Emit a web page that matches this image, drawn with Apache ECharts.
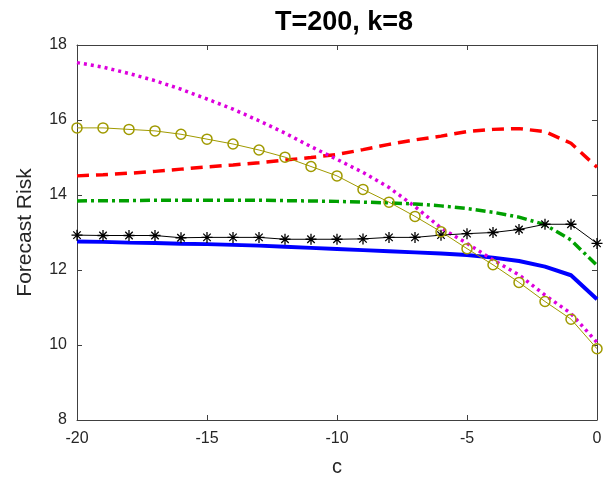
<!DOCTYPE html>
<html>
<head>
<meta charset="utf-8">
<script src="https://cdn.jsdelivr.net/npm/echarts@6/dist/echarts.min.js"></script>
<style>
  html, body { margin: 0; padding: 0; background: #fff; }
  #chart { width: 608px; height: 485px; }
</style>
</head>
<body>
<div id="chart"></div>
<script>
// c values shared by every curve
const cValues = [-20, -19, -18, -17, -16, -15, -14, -13, -12, -11, -10, -9, -8, -7, -6, -5, -4, -3, -2, -1, 0];

// forecast risk per method
const riskBlue    = [12.76, 12.75, 12.73, 12.72, 12.70, 12.69, 12.67, 12.65, 12.62, 12.59, 12.56, 12.53, 12.50, 12.47, 12.44, 12.40, 12.33, 12.24, 12.09, 11.86, 11.22];
const riskRed     = [14.51, 14.54, 14.58, 14.63, 14.69, 14.75, 14.80, 14.86, 14.93, 15.00, 15.08, 15.21, 15.35, 15.47, 15.57, 15.69, 15.75, 15.77, 15.69, 15.38, 14.74];
const riskGreen   = [13.84, 13.85, 13.85, 13.86, 13.86, 13.86, 13.86, 13.86, 13.85, 13.84, 13.83, 13.81, 13.79, 13.76, 13.71, 13.64, 13.54, 13.41, 13.21, 12.80, 12.12];
const riskMagenta = [17.53, 17.41, 17.24, 17.05, 16.82, 16.56, 16.29, 15.98, 15.65, 15.29, 14.95, 14.60, 14.20, 13.69, 13.12, 12.71, 12.27, 11.87, 11.33, 10.84, 10.07];
const riskStar    = [12.93, 12.92, 12.92, 12.92, 12.86, 12.87, 12.87, 12.87, 12.82, 12.82, 12.82, 12.83, 12.87, 12.87, 12.93, 12.97, 13.00, 13.08, 13.22, 13.22, 12.71];
const riskCircle  = [15.79, 15.79, 15.75, 15.71, 15.62, 15.49, 15.36, 15.20, 15.01, 14.76, 14.51, 14.15, 13.81, 13.43, 13.02, 12.57, 12.14, 11.67, 11.16, 10.69, 9.90];

// axis ticks
const xTicks = [-20, -15, -10, -5, 0];
const yTicks = [8, 10, 12, 14, 16, 18];

const pair = arr => cValues.map((c, i) => [c, arr[i]]);

const axisColor = '#404040';
const labelColor = '#262626';
const fontFamily = '"Liberation Sans", Arial, Helvetica, sans-serif';

const asterisk = 'path://M0,5 L10,5 M5,0 L5,10 M1.6,1.6 L8.4,8.4 M8.4,1.6 L1.6,8.4';

const chart = echarts.init(document.getElementById('chart'), null, { renderer: 'canvas' });

const baseAxis = {
  axisLine: { show: true, onZero: false, lineStyle: { color: axisColor, width: 1 } },
  axisTick: { show: true, inside: true, length: 5, lineStyle: { color: axisColor, width: 1 } },
  splitLine: { show: false }
};

chart.setOption({
  animation: false,
  backgroundColor: '#fff',
  title: {
    text: 'T=200, k=8',
    left: 339,
    textAlign: 'center',
    top: 4,
    textStyle: { fontFamily, fontSize: 27, fontWeight: 'bold', color: '#000' }
  },
  grid: { left: 77, right: 11, top: 45, bottom: 65, containLabel: false },
  xAxis: [
    Object.assign({}, baseAxis, {
      type: 'value', min: xTicks[0], max: xTicks[xTicks.length - 1], interval: 5,
      position: 'bottom',
      name: 'c', nameLocation: 'middle', nameGap: 37,
      nameTextStyle: { fontFamily, fontSize: 20, color: labelColor },
      axisLabel: { fontFamily, fontSize: 16, color: labelColor, margin: 11 }
    }),
    Object.assign({}, baseAxis, {
      type: 'value', min: xTicks[0], max: xTicks[xTicks.length - 1], interval: 5,
      position: 'top', axisLabel: { show: false }
    })
  ],
  yAxis: [
    Object.assign({}, baseAxis, {
      type: 'value', min: yTicks[0], max: yTicks[yTicks.length - 1], interval: 2,
      position: 'left',
      name: 'Forecast Risk', nameLocation: 'middle', nameGap: 41,
      nameTextStyle: { fontFamily, fontSize: 21, color: labelColor },
      axisLabel: { fontFamily, fontSize: 16, color: labelColor, margin: 10 }
    }),
    Object.assign({}, baseAxis, {
      type: 'value', min: yTicks[0], max: yTicks[yTicks.length - 1], interval: 2,
      position: 'right', axisLabel: { show: false }
    })
  ],
  series: [
    {
      type: 'line', data: pair(riskBlue), showSymbol: false, symbol: 'none',
      lineStyle: { color: '#0000ff', width: 4 }, z: 2
    },
    {
      type: 'line', data: pair(riskRed), showSymbol: false, symbol: 'none',
      lineStyle: { color: '#ff0000', width: 3.5, type: [12, 7], cap: 'butt' }, z: 2
    },
    {
      type: 'line', data: pair(riskGreen), showSymbol: false, symbol: 'none',
      lineStyle: { color: '#00a000', width: 3.5, type: [10, 4, 3, 4], cap: 'butt' }, z: 2
    },
    {
      type: 'line', data: pair(riskMagenta), showSymbol: false, symbol: 'none',
      lineStyle: { color: '#dd00dd', width: 3.5, type: [3, 4], cap: 'butt' }, z: 2
    },
    {
      type: 'line', data: pair(riskStar), symbol: asterisk, symbolSize: 11,
      showAllSymbol: true,
      lineStyle: { color: '#000', width: 1 },
      itemStyle: { color: '#000', borderColor: '#000', borderWidth: 1.3 }, z: 3
    },
    {
      type: 'line', data: pair(riskCircle), symbol: 'circle', symbolSize: 10,
      showAllSymbol: true,
      lineStyle: { color: '#a09a00', width: 1 },
      itemStyle: { color: 'rgba(255,255,255,0)', borderColor: '#a09a00', borderWidth: 1.5 }, z: 3
    }
  ]
});
</script>
</body>
</html>
